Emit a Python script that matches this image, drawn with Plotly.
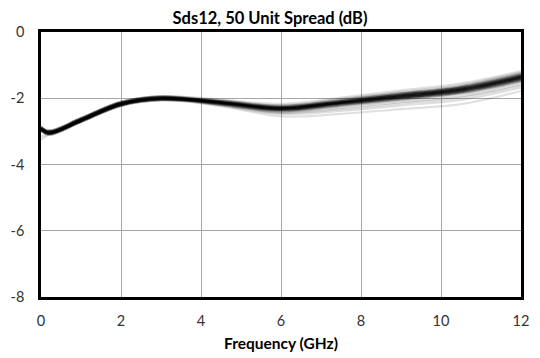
import plotly.graph_objects as go

# Frequency points (GHz)
freq_ghz = [0, 0.2, 1, 2, 3, 4.5, 6, 7.5, 9, 10.5, 12]

# Sds12 (dB) per unit, grouped by where the unit lies in the spread
units_core = [
    [-2.92, -3.04, -2.66, -2.17, -2.00, -2.13, -2.31, -2.13, -1.94, -1.74, -1.37],
    [-2.89, -3.01, -2.63, -2.14, -1.97, -2.13, -2.31, -2.13, -1.94, -1.74, -1.37],
    [-2.95, -3.07, -2.69, -2.20, -2.03, -2.13, -2.31, -2.13, -1.94, -1.74, -1.37],
    [-2.92, -3.04, -2.66, -2.17, -2.00, -2.13, -2.31, -2.13, -1.94, -1.74, -1.37],
    [-2.86, -2.98, -2.60, -2.11, -1.94, -2.13, -2.31, -2.13, -1.94, -1.74, -1.37],
    [-2.95, -3.07, -2.69, -2.20, -2.03, -2.13, -2.31, -2.13, -1.94, -1.74, -1.37],
    [-2.89, -3.01, -2.63, -2.14, -1.97, -2.13, -2.31, -2.13, -1.94, -1.74, -1.37],
    [-2.92, -3.04, -2.66, -2.17, -2.00, -2.13, -2.31, -2.13, -1.94, -1.74, -1.37],
    [-2.98, -3.10, -2.72, -2.23, -2.06, -2.13, -2.31, -2.13, -1.94, -1.74, -1.37],
]

units_upper = [
    [-2.89, -3.01, -2.63, -2.14, -1.97, -2.12, -2.29, -2.11, -1.91, -1.71, -1.34],
    [-2.92, -3.04, -2.66, -2.17, -2.00, -2.12, -2.29, -2.11, -1.91, -1.71, -1.34],
    [-2.95, -3.07, -2.69, -2.20, -2.03, -2.12, -2.29, -2.11, -1.91, -1.71, -1.34],
    [-2.86, -2.98, -2.60, -2.11, -1.94, -2.12, -2.29, -2.11, -1.91, -1.71, -1.34],
    [-2.92, -3.04, -2.66, -2.17, -2.00, -2.12, -2.29, -2.11, -1.91, -1.71, -1.34],
    [-2.95, -3.07, -2.69, -2.20, -2.03, -2.12, -2.29, -2.11, -1.91, -1.71, -1.34],
    [-2.89, -3.01, -2.63, -2.14, -1.97, -2.12, -2.29, -2.11, -1.91, -1.71, -1.34],
    [-2.92, -3.04, -2.66, -2.17, -2.00, -2.10, -2.27, -2.09, -1.89, -1.68, -1.31],
    [-2.89, -3.01, -2.63, -2.14, -1.97, -2.10, -2.27, -2.09, -1.89, -1.68, -1.31],
    [-2.95, -3.07, -2.69, -2.20, -2.03, -2.10, -2.27, -2.09, -1.89, -1.68, -1.31],
    [-2.86, -2.98, -2.60, -2.11, -1.94, -2.10, -2.27, -2.09, -1.89, -1.68, -1.31],
    [-2.92, -3.04, -2.66, -2.17, -2.00, -2.10, -2.27, -2.09, -1.89, -1.68, -1.31],
    [-2.89, -3.01, -2.63, -2.14, -1.97, -2.09, -2.25, -2.06, -1.86, -1.66, -1.28],
    [-2.92, -3.04, -2.66, -2.17, -2.00, -2.09, -2.25, -2.06, -1.86, -1.66, -1.28],
    [-2.95, -3.07, -2.69, -2.20, -2.03, -2.09, -2.25, -2.06, -1.86, -1.66, -1.28],
    [-2.86, -2.98, -2.60, -2.11, -1.94, -2.07, -2.23, -2.04, -1.84, -1.63, -1.25],
    [-2.92, -3.04, -2.66, -2.17, -2.00, -2.07, -2.23, -2.04, -1.84, -1.63, -1.25],
    [-2.89, -3.01, -2.63, -2.14, -1.97, -2.06, -2.21, -2.02, -1.81, -1.60, -1.22],
]

units_lower = [
    [-2.95, -3.07, -2.69, -2.20, -2.03, -2.14, -2.33, -2.15, -1.97, -1.77, -1.40],
    [-2.92, -3.04, -2.66, -2.17, -2.00, -2.14, -2.33, -2.15, -1.97, -1.77, -1.40],
    [-2.89, -3.01, -2.63, -2.14, -1.97, -2.14, -2.33, -2.15, -1.97, -1.77, -1.40],
    [-2.98, -3.10, -2.72, -2.23, -2.06, -2.14, -2.33, -2.15, -1.97, -1.77, -1.40],
    [-2.92, -3.04, -2.66, -2.17, -2.00, -2.14, -2.33, -2.15, -1.97, -1.77, -1.40],
    [-2.89, -3.01, -2.63, -2.14, -1.97, -2.14, -2.33, -2.15, -1.97, -1.77, -1.40],
    [-2.95, -3.07, -2.69, -2.20, -2.03, -2.14, -2.33, -2.15, -1.97, -1.77, -1.40],
    [-2.95, -3.07, -2.69, -2.20, -2.03, -2.16, -2.35, -2.17, -1.99, -1.80, -1.43],
    [-2.92, -3.04, -2.66, -2.17, -2.00, -2.16, -2.35, -2.17, -1.99, -1.80, -1.43],
    [-2.89, -3.01, -2.63, -2.14, -1.97, -2.16, -2.35, -2.17, -1.99, -1.80, -1.43],
    [-2.98, -3.10, -2.72, -2.23, -2.06, -2.16, -2.35, -2.17, -1.99, -1.80, -1.43],
    [-2.92, -3.04, -2.66, -2.17, -2.00, -2.16, -2.35, -2.17, -1.99, -1.80, -1.43],
    [-2.95, -3.07, -2.69, -2.20, -2.03, -2.17, -2.37, -2.20, -2.02, -1.82, -1.46],
    [-2.92, -3.04, -2.66, -2.17, -2.00, -2.17, -2.37, -2.20, -2.02, -1.82, -1.46],
    [-2.89, -3.01, -2.63, -2.14, -1.97, -2.17, -2.37, -2.20, -2.02, -1.82, -1.46],
    [-2.95, -3.07, -2.69, -2.20, -2.03, -2.19, -2.39, -2.22, -2.04, -1.85, -1.49],
    [-2.98, -3.10, -2.72, -2.23, -2.06, -2.19, -2.39, -2.22, -2.04, -1.85, -1.49],
    [-2.92, -3.04, -2.66, -2.17, -2.00, -2.20, -2.41, -2.24, -2.07, -1.88, -1.52],
]

units_outlier = [
    [-3.25, -3.10, -2.70, -2.21, -2.05, -2.24, -2.55, -2.47, -2.33, -2.18, -1.78],
    [-3.15, -3.08, -2.69, -2.20, -2.04, -2.22, -2.48, -2.38, -2.22, -2.05, -1.68],
    [-2.95, -3.07, -2.69, -2.20, -2.03, -2.20, -2.45, -2.33, -2.16, -1.98, -1.62],
    [-2.92, -3.04, -2.66, -2.17, -2.00, -2.19, -2.43, -2.29, -2.12, -1.94, -1.58],
    [-2.86, -2.98, -2.60, -2.11, -1.94, -2.04, -2.17, -1.98, -1.76, -1.55, -1.18],
]

x_ticks = [0, 2, 4, 6, 8, 10, 12]
y_ticks = [0, -2, -4, -6, -8]

fig = go.Figure()
for group in (units_core, units_upper, units_lower, units_outlier):
    for unit in group:
        fig.add_trace(go.Scatter(
            x=freq_ghz, y=unit, mode="lines",
            line=dict(color="rgba(0,0,0,0.12)", width=2.2, shape="spline", smoothing=1.0),
            hoverinfo="skip", showlegend=False,
        ))

font_family = "Lato, 'Open Sans', sans-serif"
fig.update_layout(
    width=540, height=358,
    margin=dict(l=41, r=19, t=32, b=61, autoexpand=False),
    paper_bgcolor="white", plot_bgcolor="white",
    title=dict(text="<b>Sds12, 50 Unit Spread (dB)</b>", xref="container", x=0.5, xanchor="center",
               y=1 - 18 / 358, yanchor="middle",
               font=dict(family=font_family, size=16.5, color="#000000")),
    font=dict(family=font_family, size=14.5, color="#333333"),
    showlegend=False,
)
fig.update_xaxes(
    range=[0, 12], tickvals=x_ticks, ticktext=[str(v) for v in x_ticks],
    showgrid=True, gridcolor="#a6a6a6", gridwidth=1, zeroline=False,
    showline=True, linecolor="black", linewidth=2.5, mirror=True,
    ticks="", ticklabelstandoff=9, automargin=False,
    title=dict(text="<b>Frequency (GHz)</b>", standoff=10,
               font=dict(family=font_family, size=15.5, color="#000000")),
)
fig.update_yaxes(
    range=[-8, 0], tickvals=y_ticks, ticktext=[str(v) for v in y_ticks],
    showgrid=True, gridcolor="#a6a6a6", gridwidth=1, zeroline=False,
    showline=True, linecolor="black", linewidth=2.5, mirror=True,
    ticks="", ticklabelstandoff=11, automargin=False,
)

fig.write_html("out.html")
